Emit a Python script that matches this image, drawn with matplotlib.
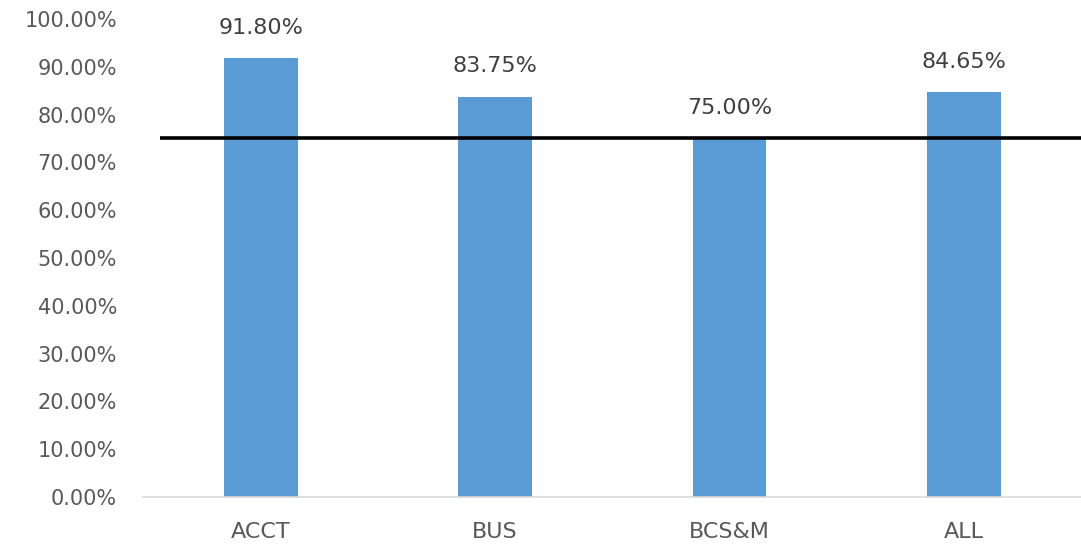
import matplotlib
matplotlib.use("Agg")
from matplotlib import pyplot as plt
import numpy as np

categories = ['ACCT', 'BUS', 'BCS&M', 'ALL']
values = [91.80, 83.75, 75.00, 84.65]
target = 75.0
yticks = np.arange(0, 101, 10)

plt.rcParams['font.family'] = ['DejaVu Sans']

fig = plt.figure(figsize=(10.81, 5.49), dpi=100)
ax = fig.add_axes([0.1327, 0.0947, 0.8673, 0.8707])

x = np.arange(len(categories))
bars = ax.bar(x, values, width=0.315, color='#5B9BD5', zorder=2)

for xi, v in zip(x, values):
    ax.annotate('%.2f%%' % v, (xi, v), xytext=(0, 22), textcoords='offset points',
                ha='center', va='center', fontsize=16, color='#404040')

# target line
ax.plot([-0.43, 3.5], [target, target], color='black', linewidth=2.6, zorder=3,
        solid_capstyle='butt')

ax.set_xlim(-0.5, 3.5)
ax.set_ylim(0, 100)
ax.set_yticks(yticks)
ax.set_yticklabels(['%.2f%%' % t for t in yticks])
ax.set_xticks(x)
ax.set_xticklabels(categories)
ax.tick_params(axis='both', length=0, labelcolor='#595959')
ax.tick_params(axis='y', labelsize=15, pad=19)
ax.tick_params(axis='x', labelsize=16, pad=18)

for side in ['left', 'right', 'top']:
    ax.spines[side].set_visible(False)
ax.spines['bottom'].set_color('#D9D9D9')
ax.spines['bottom'].set_linewidth(1.2)

fig.savefig('out.png', dpi=100)
